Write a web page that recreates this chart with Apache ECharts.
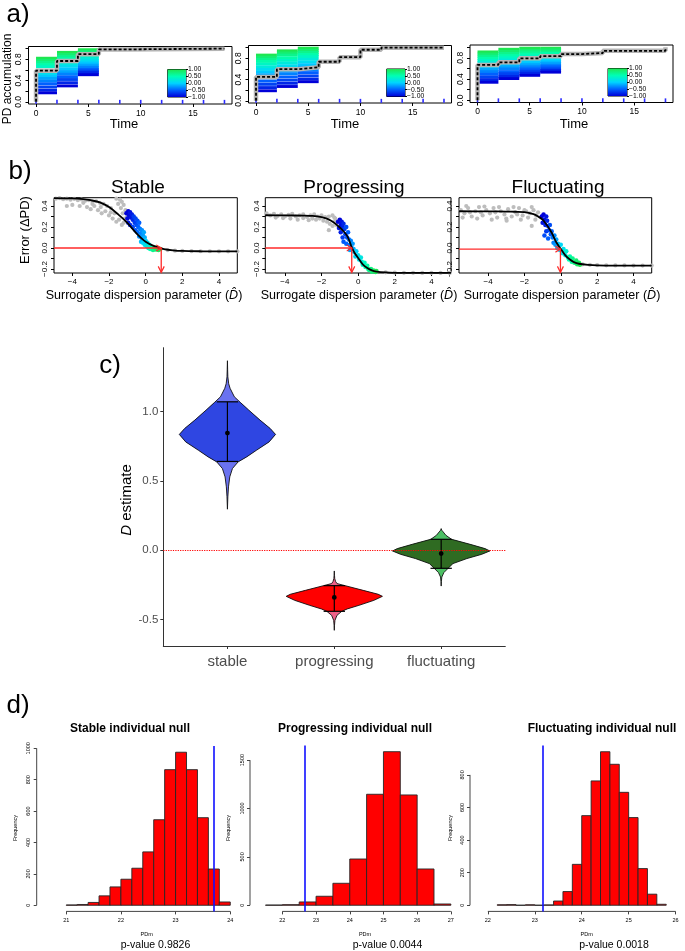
<!DOCTYPE html>
<html><head><meta charset="utf-8">
<script src="https://cdn.jsdelivr.net/npm/echarts@6/dist/echarts.min.js"></script>
<style>html,body{margin:0;padding:0;background:#fff}#c{width:685px;height:951px}</style>
</head><body><div id="c"></div>
<script>
// ================= DATA =================
// ---- panel a: PD accumulation ----
const visitTimes = [0,2,4,6,8,10,12,14,16,18];
const lineD = [1,0.85,0.7,0.55,0.4,0.25,0.1,-0.05,-0.2,-0.35,-0.5,-0.65,-0.8,-1];
const stableIntervals = [[0,2],[2,4],[4,6]];
const stableLineY = [
  [0.82,0.78,0.74,0.70,0.66,0.56,0.52,0.48,0.44,0.39,0.34,0.28,0.22,0.17],
  [0.93,0.89,0.85,0.81,0.77,0.72,0.67,0.62,0.57,0.52,0.47,0.42,0.36,0.30],
  [0.98,0.95,0.92,0.89,0.85,0.81,0.77,0.73,0.69,0.65,0.61,0.58,0.55,0.51]
];
const stableStep = [[0,0],[0,0.585],[2,0.768],[4,0.895],[6,0.985],[8,1.0],[18,1.0]];
const progIntervals = [[0,2],[2,4],[4,6]];
const progLineY = [
  [0.86,0.82,0.78,0.74,0.69,0.64,0.59,0.54,0.49,0.43,0.37,0.31,0.25,0.19],
  [0.94,0.90,0.86,0.81,0.76,0.71,0.66,0.61,0.56,0.51,0.45,0.39,0.33,0.27],
  [0.99,0.95,0.91,0.87,0.83,0.78,0.73,0.68,0.63,0.58,0.53,0.47,0.41,0.36]
];
const progStep = [[0,0],[0,0.45],[2,0.595],[4,0.63],[6,0.735],[8,0.82],[10,0.96],[12,1.0],[18,1.0]];
const flucIntervals = [[0,2],[2,4],[4,6],[6,8]];
const flucLineY = [
  [0.91,0.87,0.83,0.79,0.75,0.71,0.66,0.62,0.58,0.54,0.49,0.44,0.39,0.34],
  [0.96,0.92,0.88,0.84,0.80,0.76,0.72,0.67,0.63,0.59,0.54,0.50,0.45,0.41],
  [0.98,0.94,0.91,0.87,0.83,0.79,0.75,0.71,0.67,0.63,0.59,0.55,0.51,0.47],
  [0.98,0.95,0.91,0.88,0.84,0.81,0.77,0.73,0.70,0.66,0.63,0.59,0.56,0.53]
];
const flucStep = [[0,0],[0,0.665],[2,0.715],[4,0.79],[6,0.83],[8,0.87],[10,0.89],[12,0.93],[18,1.0]];
const aTimeTicks = [0,5,10,15];
const aYTicks = [0,0.2,0.4,0.6,0.8,1.0];
const aYLabels = [0,0.4,0.8];
const colorbarRange = [-1,1];
const colorbarTicks = [-1,-0.5,0,0.5,1];

// ---- panel b: error vs surrogate dispersion ----
const stableGrey = [[-4.9,0.47],[-4.7,0.475],[-4.5,0.465],[-4.3,0.47],[-4.1,0.46],[-3.9,0.468],[-3.7,0.455],[-3.5,0.462],[-3.3,0.45],[-3.1,0.455],[-2.9,0.44],[-2.7,0.445],[-2.5,0.43],[-2.3,0.42],[-2.1,0.4],[-1.9,0.38],
 [-1.6,0.47],[-1.4,0.46],[-1.3,0.44],[-1.5,0.42],[-1.2,0.41],[-1.35,0.38],[-1.1,0.36],[-1.25,0.33],[-1.0,0.3],[-1.15,0.28],
 [-4.3,0.40],[-4.0,0.41],[-3.6,0.40],[-3.2,0.39],[-3.0,0.37],[-2.8,0.40],[-2.6,0.36],[-2.4,0.33],[-2.2,0.35],[-2.0,0.31],[-1.8,0.28],[-1.6,0.25],[-1.45,0.27],[-1.3,0.22],[-1.7,0.33],[-1.9,0.34],[-3.4,0.43],[-2.9,0.42],[-2.45,0.39],[-1.2,0.24],
 [1.2,-0.02],[1.6,-0.025],[2.0,-0.028],[2.5,-0.03],[3.0,-0.031],[3.5,-0.031],[4.0,-0.032],[4.5,-0.032],[5.0,-0.032]];
const stableColored = [[-1.05,0.33,-1],[-0.95,0.35,-1],[-0.9,0.31,-0.95],[-1.0,0.28,-0.95],[-0.85,0.34,-0.9],[-0.8,0.29,-0.9],[-0.95,0.24,-0.85],[-0.75,0.32,-0.85],[-0.7,0.27,-0.8],[-0.85,0.22,-0.8],
 [-0.65,0.3,-0.7],[-0.6,0.24,-0.7],[-0.55,0.28,-0.65],[-0.7,0.2,-0.65],[-0.5,0.22,-0.6],[-0.45,0.26,-0.6],[-0.55,0.17,-0.55],[-0.4,0.2,-0.5],[-0.35,0.24,-0.5],[-0.45,0.15,-0.45],
 [-0.3,0.18,-0.4],[-0.25,0.14,-0.35],[-0.2,0.17,-0.3],[-0.35,0.11,-0.3],[-0.15,0.12,-0.25],[-0.1,0.15,-0.2],[-0.2,0.09,-0.2],[-0.05,0.1,-0.15],
 [-0.25,0.06,-0.1],[-0.15,0.05,0],[0.0,0.07,0],[-0.05,0.03,0.1],[0.1,0.05,0.1],[0.05,0.02,0.2],[0.2,0.03,0.25],[0.15,0.0,0.3],[0.3,0.01,0.35],
 [0.25,-0.01,0.5],[0.35,0.0,0.6],[0.4,-0.02,0.7],[0.5,0.005,0.75],[0.55,-0.015,0.8],[0.65,-0.005,0.9],[0.7,-0.02,0.95],[0.8,-0.01,1]];
const stableCurve = [[-5,0.475],[-4,0.472],[-3.4,0.465],[-3,0.455],[-2.5,0.435],[-2,0.39],[-1.5,0.32],[-1,0.24],[-0.5,0.14],[0,0.06],[0.5,0.015],[1,-0.01],[1.5,-0.022],[2,-0.028],[3,-0.031],[4,-0.032],[5,-0.032]];

const progGrey = [[-5.0,0.33],[-4.8,0.31],[-4.6,0.325],[-4.4,0.305],[-4.2,0.32],[-4.0,0.3],[-3.8,0.315],[-3.6,0.325],[-3.4,0.3],[-3.2,0.31],[-3.0,0.32],[-2.8,0.295],[-2.6,0.31],[-2.4,0.32],[-2.2,0.3],[-2.0,0.31],[-1.8,0.295],[-1.6,0.3],[-1.4,0.31],[-1.3,0.29],
 [-3.7,0.28],[-3.3,0.27],[-3.0,0.285],[-2.7,0.265],[-2.5,0.28],[-2.3,0.27],[-2.1,0.28],[-1.9,0.26],[-1.7,0.25],[-1.55,0.23],[-1.6,0.17],[-1.4,0.21],[-1.3,0.25],[-1.2,0.22],[-1.25,0.28],[-4.5,0.29],[-4.1,0.285],
 [1.0,-0.225],[1.5,-0.232],[2.0,-0.235],[2.5,-0.236],[3.0,-0.236],[3.5,-0.237],[4.0,-0.237],[4.5,-0.237],[5.0,-0.237]];
const progColored = [[-1.1,0.25,-1],[-1.0,0.27,-1],[-0.95,0.22,-0.95],[-1.05,0.19,-0.9],[-0.9,0.25,-0.9],[-0.85,0.2,-0.85],[-0.95,0.15,-0.85],[-0.8,0.23,-0.8],
 [-0.75,0.18,-0.7],[-0.85,0.1,-0.7],[-0.7,0.13,-0.65],[-0.65,0.2,-0.6],[-0.6,0.1,-0.6],[-0.8,0.06,-0.55],[-0.55,0.15,-0.5],[-0.65,0.04,-0.5],[-0.5,0.08,-0.45],
 [-0.45,0.03,-0.4],[-0.4,0.07,-0.35],[-0.35,0.0,-0.3],[-0.3,0.04,-0.25],[-0.45,-0.02,-0.2],[-0.25,-0.01,-0.15],
 [-0.2,-0.04,-0.05],[-0.1,-0.03,0],[-0.15,-0.08,0.05],[0.0,-0.07,0.1],[0.05,-0.11,0.15],[0.15,-0.09,0.2],[0.2,-0.13,0.25],
 [0.25,-0.16,0.35],[0.35,-0.14,0.4],[0.4,-0.18,0.5],[0.5,-0.17,0.55],[0.55,-0.2,0.6],
 [0.6,-0.21,0.7],[0.7,-0.2,0.75],[0.75,-0.225,0.8],[0.85,-0.215,0.9],[0.95,-0.228,0.95],[1.0,-0.22,1]];
const progCurve = [[-5.07,0.312],[-4,0.311],[-3,0.308],[-2.5,0.305],[-2,0.295],[-1.75,0.282],[-1.5,0.262],[-1.25,0.232],[-1,0.195],[-0.75,0.15],[-0.6,0.115],[-0.45,0.055],[-0.35,0.005],[-0.2,-0.045],[0,-0.095],[0.25,-0.155],[0.5,-0.19],[0.75,-0.213],[1,-0.224],[1.5,-0.233],[2,-0.236],[3,-0.237],[5.07,-0.237]];

const flucGrey = [[-5.5,0.36],[-5.3,0.33],[-5.1,0.38],[-4.9,0.3],[-4.7,0.35],[-4.5,0.39],[-4.3,0.31],[-4.1,0.36],[-3.9,0.33],[-3.7,0.38],[-3.5,0.29],[-3.3,0.35],[-3.1,0.32],[-2.9,0.37],[-2.7,0.3],[-2.5,0.34],[-2.3,0.38],[-2.1,0.31],[-1.9,0.35],[-1.7,0.33],[-1.5,0.36],[-1.35,0.31],
 [-5.4,0.29],[-5.0,0.34],[-4.6,0.28],[-4.2,0.395],[-3.8,0.27],[-3.4,0.39],[-3.0,0.28],[-2.6,0.39],[-2.2,0.27],[-1.8,0.29],[-1.6,0.39],[-1.4,0.27],[-2.98,0.26],[-1.6,0.21],[-5.2,0.4],[-4.4,0.34],[-3.6,0.34],[-2.4,0.32],[-2.0,0.36],[-1.25,0.34],
 [1.2,-0.155],[1.6,-0.16],[2.0,-0.163],[2.5,-0.165],[3.0,-0.166],[3.5,-0.166],[4.0,-0.167],[4.5,-0.167],[5.0,-0.167]];
const flucColored = [[-1.05,0.3,-1],[-0.95,0.32,-1],[-0.9,0.27,-0.95],[-1.0,0.24,-0.9],[-0.8,0.3,-0.9],[-0.85,0.22,-0.85],[-0.75,0.26,-0.8],
 [-0.7,0.21,-0.7],[-0.8,0.16,-0.7],[-0.65,0.17,-0.65],[-0.9,0.12,-0.6],[-0.6,0.22,-0.6],[-0.55,0.13,-0.55],[-0.7,0.09,-0.5],[-0.5,0.16,-0.5],
 [-0.45,0.1,-0.4],[-0.4,0.05,-0.35],[-0.35,0.12,-0.3],[-0.3,0.03,-0.25],[-0.25,0.08,-0.2],[-0.2,0.0,-0.15],
 [-0.15,0.04,-0.05],[-0.05,-0.02,0],[0.0,0.03,0.05],[0.1,-0.05,0.1],[0.15,-0.01,0.15],[0.25,-0.07,0.2],[0.3,-0.03,0.3],[0.4,-0.09,0.35],
 [0.45,-0.11,0.5],[0.5,-0.08,0.55],[0.6,-0.13,0.6],[0.65,-0.1,0.7],[0.75,-0.14,0.75],[0.85,-0.12,0.85],[0.9,-0.155,0.9],[1.0,-0.14,0.95],[1.05,-0.16,1]];
const flucCurve = [[-5.6,0.35],[-4,0.349],[-3,0.347],[-2.5,0.345],[-2,0.342],[-1.5,0.322],[-1.25,0.3],[-1,0.27],[-0.75,0.215],[-0.5,0.145],[-0.25,0.055],[0,-0.01],[0.25,-0.07],[0.5,-0.11],[0.75,-0.137],[1,-0.15],[1.5,-0.16],[2,-0.165],[3,-0.167],[5,-0.167]];

const bEstimates = [0.85, -0.35, -0.02];
const bEstY = [0, 0, -0.01];
const bXTicks = [-4,-2,0,2,4];
const bYTicks = [-0.2,-0.1,0,0.1,0.2,0.3,0.4];
const bYLabels = [-0.2,0,0.2,0.4];

// ---- panel c: violins of D estimate ----
const cCategories = ['stable','progressing','fluctuating'];
const cYTicks = [-0.5,0,0.5,1.0];
const stableDens = [[1.366,0],[1.30,0.002],[1.25,0.004],[1.2,0.012],[1.167,0.025],[1.106,0.065],[1.066,0.12],[1.01,0.2],[0.938,0.305],[0.878,0.4],[0.835,0.45],[0.781,0.39],[0.72,0.27],[0.673,0.18],[0.637,0.1],[0.589,0.047],[0.529,0.022],[0.457,0.01],[0.385,0.004],[0.296,0]];
const progDens = [[-0.149,0],[-0.18,0.002],[-0.204,0.004],[-0.225,0.012],[-0.24,0.025],[-0.255,0.1],[-0.289,0.27],[-0.317,0.41],[-0.332,0.45],[-0.361,0.37],[-0.397,0.23],[-0.423,0.12],[-0.44,0.07],[-0.469,0.025],[-0.505,0.006],[-0.54,0.002],[-0.577,0]];
const flucDens = [[0.156,0],[0.145,0.005],[0.132,0.019],[0.108,0.044],[0.079,0.097],[0.043,0.27],[0.012,0.41],[-0.005,0.455],[-0.029,0.38],[-0.06,0.24],[-0.096,0.11],[-0.13,0.065],[-0.161,0.025],[-0.193,0.006],[-0.225,0.002],[-0.258,0]];
const cMeans = [0.845, -0.34, -0.024];
const cLower = [0.64, -0.44, -0.13];
const cUpper = [1.07, -0.255, 0.079];

// ---- panel d: null histograms ----
const stableBreaks = [21.0,21.2,21.4,21.6,21.8,22.0,22.2,22.4,22.6,22.8,23.0,23.2,23.4,23.6,23.8,24.0];
const stableCounts = [2,5,18,60,117,166,236,340,545,864,975,864,558,231,21];
const progBreaks = [21.5,22.0,22.5,23.0,23.5,24.0,24.5,25.0,25.5,26.0,26.5,27.0];
const progCounts = [2,6,34,93,227,478,1147,1587,1140,375,13];
const flucBreaks = [22.2,22.4,22.6,22.8,23.0,23.2,23.4,23.6,23.8,24.0,24.2,24.4,24.6,24.8,25.0,25.2,25.4,25.6,25.8];
const flucCounts = [3,4,0,3,0,2,26,84,251,550,763,942,865,693,538,225,68,6];
const stableXTicks = [21,22,23,24], stableYTicksD = [0,200,400,600,800,1000];
const progXTicks = [22,23,24,25,26,27], progYTicksD = [0,500,1000,1500];
const flucXTicks = [22,23,24,25,26], flucYTicksD = [0,200,400,600,800];
const observedPD = [23.7, 22.65, 23.18];
const pValues = ['0.9826','0.0044','0.0018'];

// ================= STYLE / HELPERS =================
const FONT = '"Liberation Sans", Arial, Helvetica, sans-serif';
const paletteStops = [[-1,[0,0,216]],[-0.5,[0,96,255]],[0,[0,212,255]],[0.5,[0,255,180]],[1,[30,230,80]]];
function colorFor(d){
  d = Math.max(-1, Math.min(1, d));
  for (let i=0;i<paletteStops.length-1;i++){
    const a=paletteStops[i], b=paletteStops[i+1];
    if (d<=b[0]){ const t=(d-a[0])/(b[0]-a[0]); const c=a[1].map((v,k)=>Math.round(v+t*(b[1][k]-v))); return 'rgb('+c.join(',')+')'; }
  }
  return 'rgb(30,230,80)';
}
const minusFmt = dec => v => (v<0?'\u2212':'') + Math.abs(v).toFixed(dec);
const noLine = {show:false, onZero:false};

const grids=[], xAxis=[], yAxis=[], series=[], graphic=[];
function addGrid(g){ grids.push(g); return grids.length-1; }
function txt(x,y,text,size,o){ o=o||{};
  graphic.push({type:'text', x:x, y:y, rotation:o.rot||0, silent:true, z:100,
    style:{text:text, fontSize:size, fontFamily:FONT, fontWeight:o.weight||'normal', fill:o.color||'#000',
      align:'center', verticalAlign:'middle', textAlign:'center', textVerticalAlign:'middle', rich:o.rich}});
}

// ================= PANEL A =================
const aPlots = [
  {g:{left:28.5,top:46.5,width:203.5,height:57.5}, iv:stableIntervals, ly:stableLineY, step:stableStep, cb:{left:167.7,top:69.5,width:18.3,height:27.5}},
  {g:{left:248.5,top:45.5,width:203,height:57.5}, iv:progIntervals, ly:progLineY, step:progStep, cb:{left:386.7,top:69,width:18.3,height:27.5}},
  {g:{left:470,top:45,width:203,height:57.5}, iv:flucIntervals, ly:flucLineY, step:flucStep, cb:{left:608,top:68.5,width:19,height:27.5}}
];
aPlots.forEach(p=>{
  const gi = addGrid(Object.assign({show:true, borderColor:'#000', borderWidth:1, backgroundColor:'transparent'}, p.g));
  xAxis.push({gridIndex:gi, type:'value', min:-0.72, max:18.72, splitLine:{show:false}, axisLine:noLine,
    axisTick:{show:true, customValues:aTimeTicks, length:3, lineStyle:{color:'#000'}},
    axisLabel:{customValues:aTimeTicks, fontSize:8.5, color:'#000', margin:5, fontFamily:FONT}});
  yAxis.push({gridIndex:gi, type:'value', min:-0.04, max:1.04, splitLine:{show:false}, axisLine:noLine,
    axisTick:{show:true, customValues:aYTicks, length:3, lineStyle:{color:'#000'}},
    axisLabel:{customValues:aYLabels, rotate:90, fontSize:8.5, color:'#000', margin:5, fontFamily:FONT, formatter:v=>v.toFixed(1)}});
  const segs=[];
  p.iv.forEach((iv,k)=>p.ly[k].forEach((y,j)=>segs.push([iv[0],iv[1],y,lineD[j]])));
  series.push({type:'custom', xAxisIndex:gi, yAxisIndex:gi, data:segs, silent:true,
    renderItem:(params,api)=>{ const y=api.value(2); const a=api.coord([api.value(0),y]); const b=api.coord([api.value(1),y]);
      return {type:'line', shape:{x1:a[0],y1:a[1],x2:b[0],y2:b[1]}, style:{stroke:colorFor(api.value(3)), lineWidth:2.9}}; }});
  series.push({type:'line', xAxisIndex:gi, yAxisIndex:gi, data:p.step, step:'end', symbol:'none', silent:true,
    lineStyle:{color:'#b4b4b4', width:4.5}});
  series.push({type:'line', xAxisIndex:gi, yAxisIndex:gi, data:p.step, step:'end', symbol:'none', silent:true,
    lineStyle:{color:'#000', width:1.8, type:[3,2]}});
  series.push({type:'scatter', xAxisIndex:gi, yAxisIndex:gi, data:visitTimes.map(t=>[t,0]), symbol:'rect', symbolSize:[1.6,4], silent:true,
    itemStyle:{color:'#2a2aff', opacity:1}});
  // colour bar
  const ci = addGrid(Object.assign({show:true, borderColor:'#000', borderWidth:1}, p.cb));
  xAxis.push({gridIndex:ci, type:'value', min:0, max:1, show:false, axisLine:noLine});
  yAxis.push({gridIndex:ci, type:'value', position:'right', min:-1, max:1, splitLine:{show:false}, axisLine:noLine,
    axisTick:{show:true, customValues:colorbarTicks, length:2, lineStyle:{color:'#000'}},
    axisLabel:{customValues:colorbarTicks, showMinLabel:true, showMaxLabel:true, hideOverlap:false, fontSize:6.8, lineHeight:4, padding:0,
      color:'#000', margin:2, fontFamily:FONT, formatter:minusFmt(2)}});
  series.push({type:'custom', xAxisIndex:ci, yAxisIndex:ci, data:[[0,1,colorbarRange[0],colorbarRange[1]]], silent:true,
    renderItem:(params,api)=>{ const a=api.coord([api.value(0),api.value(3)]); const b=api.coord([api.value(1),api.value(2)]);
      const stops = paletteStops.slice().reverse().map(s=>({offset:(1-s[0])/2, color:colorFor(s[0])}));
      return {type:'rect', shape:{x:a[0],y:a[1],width:b[0]-a[0],height:b[1]-a[1]},
        style:{fill:new echarts.graphic.LinearGradient(0,0,0,1,stops)}}; }});
});

// ================= PANEL B =================
const bPlots = [
  {g:{left:54,top:197.7,width:183.3,height:75.3}, xmin:-5, xmax:5, grey:stableGrey, col:stableColored, curve:stableCurve},
  {g:{left:265.3,top:197.7,width:185.7,height:75.3}, xmin:-5.07, xmax:5.07, grey:progGrey, col:progColored, curve:progCurve},
  {g:{left:459,top:197.7,width:192.7,height:75.3}, xmin:-5.6, xmax:5.0, grey:flucGrey, col:flucColored, curve:flucCurve}
];
const bYMin=-0.238, bYMax=0.479;
bPlots.forEach((p,i)=>{
  const gi = addGrid(Object.assign({show:true, borderColor:'#000', borderWidth:1}, p.g));
  xAxis.push({gridIndex:gi, type:'value', min:p.xmin, max:p.xmax, splitLine:{show:false}, axisLine:noLine,
    axisTick:{show:true, customValues:bXTicks, length:3, lineStyle:{color:'#000'}},
    axisLabel:{customValues:bXTicks, fontSize:8, color:'#000', margin:5, fontFamily:FONT, formatter:minusFmt(0)}});
  yAxis.push({gridIndex:gi, type:'value', min:bYMin, max:bYMax, splitLine:{show:false}, axisLine:noLine,
    axisTick:{show:true, customValues:bYTicks, length:3, lineStyle:{color:'#000'}},
    axisLabel:{customValues:bYLabels, rotate:90, fontSize:8, color:'#000', margin:5, fontFamily:FONT, formatter:minusFmt(1)}});
  series.push({type:'scatter', xAxisIndex:gi, yAxisIndex:gi, data:p.grey, symbolSize:4.2, silent:true, itemStyle:{color:'#bdbdbd', opacity:1}});
  series.push({type:'scatter', xAxisIndex:gi, yAxisIndex:gi, data:p.col, symbolSize:4.5, silent:true, itemStyle:{color:q=>colorFor(q.value[2]), opacity:1}});
  series.push({type:'line', xAxisIndex:gi, yAxisIndex:gi, data:p.curve, smooth:0.3, symbol:'none', silent:true, lineStyle:{color:'#000', width:1.8}});
  const est=bEstimates[i], ey=bEstY[i];
  series.push({type:'line', xAxisIndex:gi, yAxisIndex:gi, silent:true, showSymbol:true, z:5,
    data:[{value:[p.xmin,ey], symbol:'none'},{value:[est,ey], symbol:'path://M0,0L8,5L0,10', symbolSize:[5,6], symbolOffset:['-50%',0]}],
    lineStyle:{color:'#ff2a2a', width:1.3}, itemStyle:{color:'none', borderColor:'#ff2a2a', borderWidth:1.2}});
  series.push({type:'line', xAxisIndex:gi, yAxisIndex:gi, silent:true, showSymbol:true, z:5,
    data:[{value:[est,ey], symbol:'none'},{value:[est,bYMin+0.006], symbol:'path://M0,0L5,8L10,0', symbolSize:[6,6], symbolOffset:[0,'-50%']}],
    lineStyle:{color:'#ff2a2a', width:1.3}, itemStyle:{color:'none', borderColor:'#ff2a2a', borderWidth:1.2}});
});

// ================= PANEL C =================
const ci = addGrid({left:163.3, top:347.7, width:342, height:298.3});
xAxis.push({gridIndex:ci, type:'value', min:0.4, max:3.6, splitLine:{show:false},
  axisLine:{show:true, onZero:false, lineStyle:{color:'#333', width:1}},
  axisTick:{show:true, customValues:[1,2,3], length:3, lineStyle:{color:'#333'}},
  axisLabel:{customValues:[1,2,3], fontSize:15, color:'#4d4d4d', margin:8, fontFamily:FONT, formatter:v=>cCategories[Math.round(v)-1]}});
yAxis.push({gridIndex:ci, type:'value', min:-0.69, max:1.46, splitLine:{show:false},
  axisLine:{show:true, onZero:false, lineStyle:{color:'#333', width:1}},
  axisTick:{show:true, customValues:cYTicks, length:3, lineStyle:{color:'#333'}},
  axisLabel:{customValues:cYTicks, fontSize:11.5, color:'#4d4d4d', margin:5, fontFamily:FONT, formatter:v=>v.toFixed(1)}});
function hwAt(dens,y){
  for(let i=0;i<dens.length-1;i++){ const a=dens[i], b=dens[i+1];
    if(a[0]>=y && b[0]<=y){ const t=(a[0]-y)/(a[0]-b[0]); return a[1]+t*(b[1]-a[1]); } }
  return 0;
}
const violins = [
  {dens:stableDens, light:'#6a72f0', dark:'#2f46e2'},
  {dens:progDens, light:'#ee6088', dark:'#ff0000'},
  {dens:flucDens, light:'#4cbf64', dark:'#2f6b22'}
];
violins.forEach((v,i)=>{
  const lo=cLower[i], hi=cUpper[i], mean=cMeans[i];
  const body=[[hi,hwAt(v.dens,hi)]].concat(v.dens.filter(d=>d[0]<hi && d[0]>lo)).concat([[lo,hwAt(v.dens,lo)]]);
  const s = {type:'custom', xAxisIndex:ci, yAxisIndex:ci, data:[[i+1]], silent:true, z:3,
    renderItem:(params,api)=>{
      const pos=api.value(0);
      const poly = d => d.map(q=>api.coord([pos-q[1],q[0]])).concat(d.slice().reverse().map(q=>api.coord([pos+q[1],q[0]])));
      const full=poly(v.dens), bp=poly(body);
      const top=api.coord([pos,hi]), bot=api.coord([pos,lo]), m=api.coord([pos,mean]);
      const capL=api.coord([pos-0.1,hi])[0], capR=api.coord([pos+0.1,hi])[0];
      return {type:'group', children:[
        {type:'polygon', shape:{points:full}, style:{fill:v.light, stroke:'none'}},
        {type:'polygon', shape:{points:bp}, style:{fill:v.dark, stroke:'none'}},
        {type:'polygon', shape:{points:full}, style:{fill:'none', stroke:'#111', lineWidth:0.9}},
        {type:'line', shape:{x1:top[0],y1:top[1],x2:bot[0],y2:bot[1]}, style:{stroke:'#000', lineWidth:1.2}},
        {type:'line', shape:{x1:capL,y1:top[1],x2:capR,y2:top[1]}, style:{stroke:'#000', lineWidth:1.2}},
        {type:'line', shape:{x1:capL,y1:bot[1],x2:capR,y2:bot[1]}, style:{stroke:'#000', lineWidth:1.2}},
        {type:'circle', shape:{cx:m[0],cy:m[1],r:2.4}, style:{fill:'#000'}}
      ]};
    }};
  if(i===2){ s.markLine={silent:true, symbol:'none', label:{show:false}, data:[{yAxis:0}], lineStyle:{color:'#ff0000', type:'dotted', width:1.2}, z:10}; }
  series.push(s);
});

// ================= PANEL D =================
const dPlots = [
  {g:{left:36.7,top:746.1,width:220.9,height:165.3}, xmin:20.46, xmax:24.5, ymin:-39, ymax:1014, br:stableBreaks, ct:stableCounts, xt:stableXTicks, yt:stableYTicksD},
  {g:{left:250,top:745.6,width:217.7,height:165.8}, xmin:21.04, xmax:27.5, ymin:-63.5, ymax:1650, br:progBreaks, ct:progCounts, xt:progXTicks, yt:progYTicksD},
  {g:{left:470,top:745.6,width:222.1,height:165.8}, xmin:21.62, xmax:26.2, ymin:-37.7, ymax:979.7, br:flucBreaks, ct:flucCounts, xt:flucXTicks, yt:flucYTicksD}
];
dPlots.forEach((p,i)=>{
  const gi = addGrid(p.g);
  xAxis.push({gridIndex:gi, type:'value', min:p.xmin, max:p.xmax, splitLine:{show:false}, axisLine:noLine,
    axisTick:{show:true, customValues:p.xt, length:3, lineStyle:{color:'#444'}},
    axisLabel:{customValues:p.xt, fontSize:5.5, color:'#000', margin:6, fontFamily:FONT, formatter:v=>String(v)}});
  yAxis.push({gridIndex:gi, type:'value', min:p.ymin, max:p.ymax, splitLine:{show:false}, axisLine:noLine,
    axisTick:{show:true, customValues:p.yt, length:3, lineStyle:{color:'#444'}},
    axisLabel:{customValues:p.yt, rotate:90, fontSize:5.5, color:'#000', margin:5, fontFamily:FONT, formatter:v=>String(v)}});
  const bins = p.ct.map((c,k)=>[p.br[k],p.br[k+1],c]);
  series.push({type:'custom', xAxisIndex:gi, yAxisIndex:gi, data:bins, silent:true,
    renderItem:(params,api)=>{ const a=api.coord([api.value(0),api.value(2)]); const b=api.coord([api.value(1),0]);
      return {type:'rect', shape:{x:a[0],y:a[1],width:b[0]-a[0],height:b[1]-a[1]}, style:{fill:'#ff0000', stroke:'#262626', lineWidth:0.9}}; },
    markLine:{silent:true, symbol:'none', label:{show:false}, data:[{xAxis:observedPD[i]}], lineStyle:{color:'#1010ff', type:'solid', width:1.6}}});
  series.push({type:'line', xAxisIndex:gi, yAxisIndex:gi, silent:true, symbol:'none', data:[[p.xt[0],p.ymin],[p.xt[p.xt.length-1],p.ymin]], lineStyle:{color:'#444', width:1}});
  series.push({type:'line', xAxisIndex:gi, yAxisIndex:gi, silent:true, symbol:'none', data:[[p.xmin,p.yt[0]],[p.xmin,p.yt[p.yt.length-1]]], lineStyle:{color:'#444', width:1}});
});

// ================= TEXT =================
txt(18,15,'a)',26);
txt(8,79,'PD accumulation',12,{rot:Math.PI/2});
txt(124,124,'Time',13); txt(345,124,'Time',13); txt(574,124,'Time',13);
txt(20,172,'b)',26);
txt(138,188,'Stable',19); txt(354,188,'Progressing',19); txt(558,188,'Fluctuating',19);
txt(25,230,'Error (\u0394PD)',13,{rot:Math.PI/2});
const xlab='Surrogate dispersion parameter ({i|D\u0302})';
const richI={i:{fontStyle:'italic', fontSize:12.5, fontFamily:FONT, fill:'#000'}};
txt(144,296,xlab,12.5,{rich:richI}); txt(359,296,xlab,12.5,{rich:richI}); txt(562,296,xlab,12.5,{rich:richI});
txt(110,366,'c)',26);
txt(127,500,'{i|D} estimate',15,{rot:Math.PI/2, rich:{i:{fontStyle:'italic', fontSize:15, fontFamily:FONT, fill:'#000'}}});
txt(18,706,'d)',26);
txt(130,729,'Stable individual null',12,{weight:'bold'});
txt(355,729,'Progressing individual null',12,{weight:'bold'});
txt(602,729,'Fluctuating individual null',12,{weight:'bold'});
[15,228.3,450].forEach(x=>txt(x,828,'Frequency',5.5,{rot:Math.PI/2}));
[146.7,365,586.7].forEach(x=>txt(x,934,'PDm',5.5));
[155.5,387.5,614].forEach((x,k)=>txt(x,945,'p-value '+pValues[k],10.5));

const chart = echarts.init(document.getElementById('c'), null, {renderer:'canvas'});
chart.setOption({animation:false, backgroundColor:'#fff', grid:grids, xAxis:xAxis, yAxis:yAxis, series:series, graphic:{elements:graphic}});
</script></body></html>
